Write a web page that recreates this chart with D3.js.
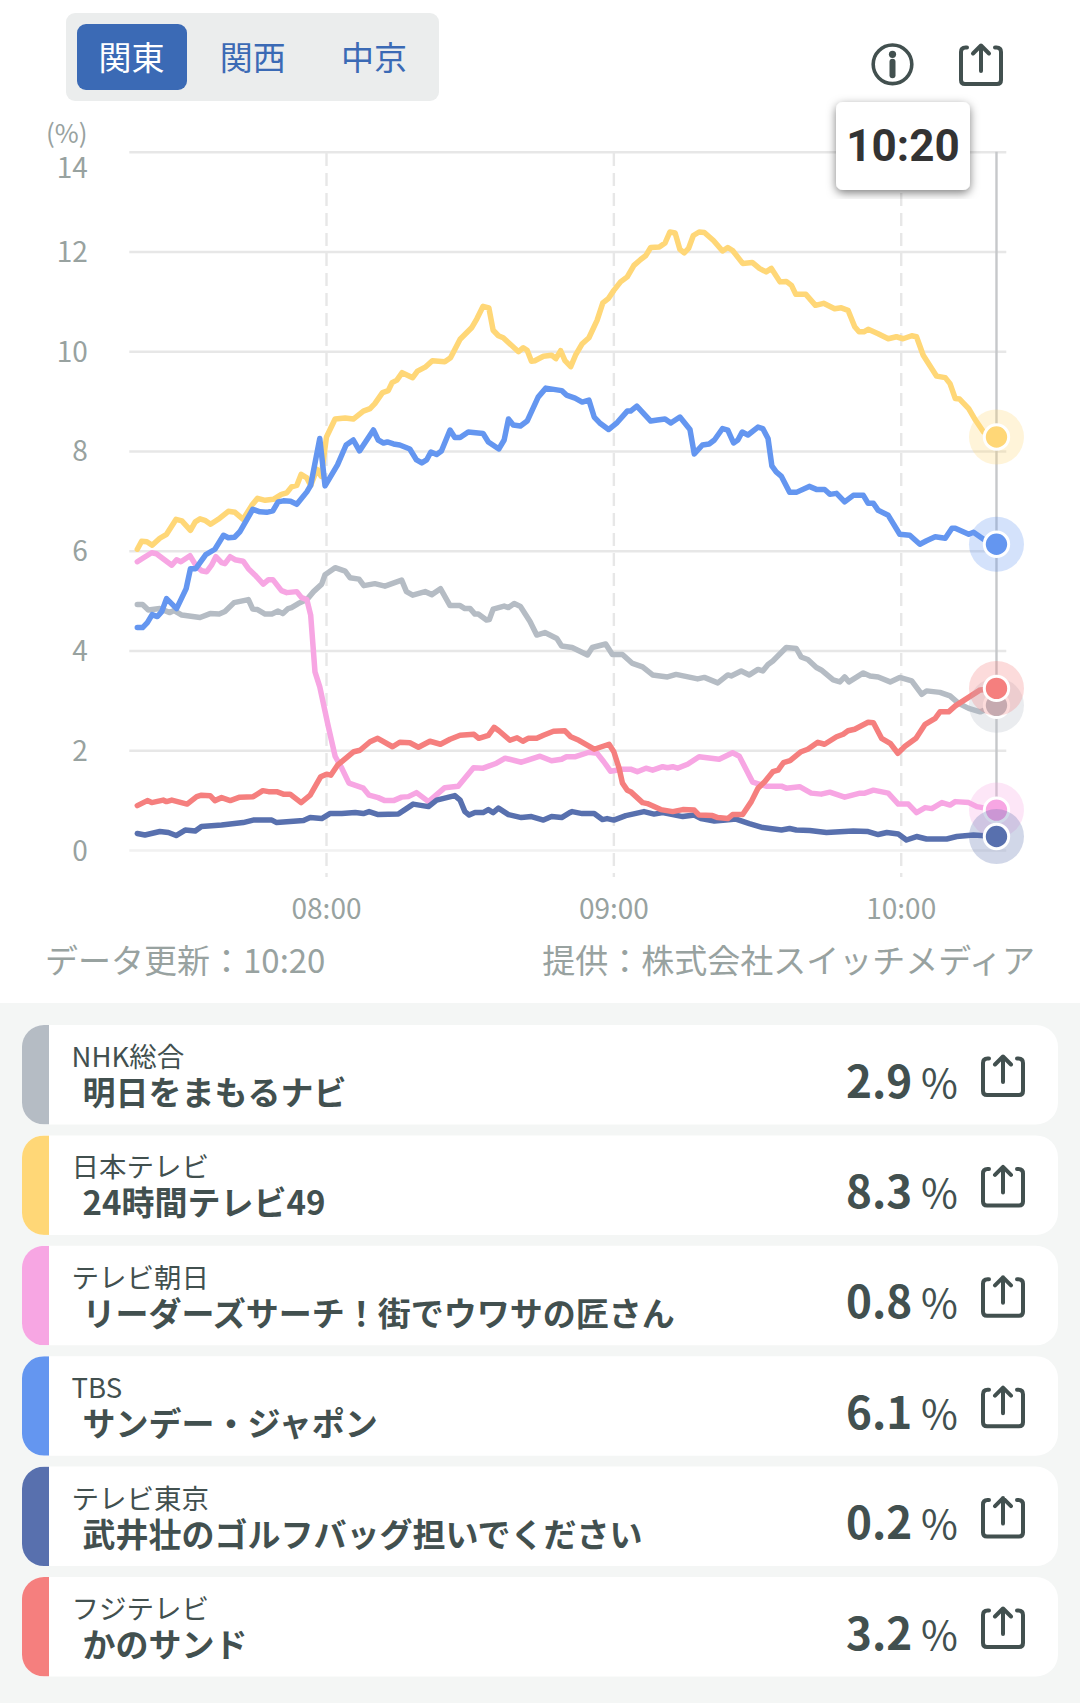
<!DOCTYPE html>
<html lang="ja">
<head>
<meta charset="utf-8">
<script src="https://cdn.jsdelivr.net/npm/d3@7"></script>
<style>
  html, body { margin: 0; padding: 0; background: #fff; }
  svg { display: block; }
  text { font-family: "Noto Sans CJK JP", "Noto Sans", sans-serif; }
</style>
</head>
<body>
<div id="chart"></div>
<script>
// Region tabs and captions
var regions = ["関東", "関西", "中京"];
var updatedText = "データ更新：10:20";
var creditText = "提供：株式会社スイッチメディア";
var currentTime = "10:20";

// Channel rows, in drawing order
var channels = ["NHK総合", "日本テレビ", "テレビ朝日", "TBS", "テレビ東京", "フジテレビ"];
var programs = ["明日をまもるナビ", "24時間テレビ49", "リーダーズサーチ！街でウワサの匠さん", "サンデー・ジャポン", "武井壮のゴルフバッグ担いでください", "かのサンド"];
var ratings = ["2.9", "8.3", "0.8", "6.1", "0.2", "3.2"];
var colors = ["#b5bcc4", "#ffd777", "#f7a6e3", "#6496f0", "#5870ae", "#f57f7e"];

// Axis ticks (x in minutes after midnight)
var yTicks = [0, 2, 4, 6, 8, 10, 12, 14];
var xTicks = [480, 540, 600];

// Traces: [minutes after midnight, rating %]
var nhk = [[440.6,4.92],[441.7,4.92],[442.9,4.81],[445.3,4.84],[447.4,4.76],[448.3,4.8],[449.9,4.71],[453.7,4.66],[455.8,4.74],[457.7,4.73],[458.9,4.78],[460.8,4.96],[463.8,5.02],[464.7,4.83],[465.7,4.82],[467.3,4.73],[468.7,4.73],[470,4.79],[471,4.74],[472.1,4.84],[472.8,4.86],[474.2,4.94],[476,5.02],[477.4,5.18],[479.1,5.33],[479.8,5.52],[481.9,5.66],[484,5.59],[485,5.46],[486.9,5.43],[487.9,5.3],[490.2,5.34],[492.3,5.29],[495.8,5.41],[496.8,5.18],[498.1,5.11],[500.7,5.18],[502.1,5.12],[503.9,5.24],[505.9,4.9],[508,4.9],[509,4.84],[510.1,4.84],[511.1,4.73],[511.8,4.73],[513.5,4.61],[514.1,4.62],[514.9,4.83],[517.2,4.89],[518.1,4.86],[519.3,4.94],[520.6,4.88],[522.6,4.58],[524,4.31],[525.7,4.36],[528.2,4.24],[529.2,4.09],[531.4,4.06],[534.6,3.91],[535.6,4.06],[538.4,4.13],[539.8,3.92],[541.9,3.92],[544,3.74],[546.1,3.67],[548.2,3.51],[551.3,3.47],[553.1,3.52],[557.6,3.43],[559,3.46],[561.8,3.35],[563.9,3.51],[564.6,3.49],[566.7,3.59],[568.4,3.51],[570.2,3.62],[571.2,3.59],[572.3,3.72],[573.3,3.79],[576.1,4.06],[578.2,4.04],[579.2,3.87],[580.6,3.82],[582.4,3.66],[583.4,3.61],[585.9,3.41],[587.3,3.37],[588.3,3.47],[589.2,3.37],[592.2,3.55],[593.6,3.49],[595.3,3.47],[597.8,3.37],[599.8,3.46],[602.3,3.39],[604.4,3.12],[605.4,3.19],[608.2,3.16],[610.3,3.09],[612.1,2.94],[614.2,2.84],[616.6,2.77],[620,2.9]];
var ntv = [[440.6,6.03],[441.5,6.19],[442.6,6.18],[443.7,6.11],[445.3,6.25],[446.7,6.33],[448.7,6.63],[449.9,6.6],[451.7,6.41],[452.7,6.58],[453.7,6.64],[454.7,6.61],[455.9,6.53],[457.5,6.63],[459.6,6.79],[461,6.77],[462.7,6.63],[464.5,6.91],[465.7,7.05],[467.3,7.01],[469,7.03],[470.7,7.13],[471.8,7.16],[472.8,7.28],[473.9,7.31],[474.8,7.53],[476,7.46],[476.8,7.31],[478.1,7.63],[479,7.49],[480.1,8.28],[481.9,8.64],[484,8.66],[485.7,8.64],[487.8,8.8],[489.2,8.85],[490.2,8.95],[491.8,9.17],[493,9.21],[493.8,9.37],[494.8,9.42],[495.9,9.57],[498.1,9.47],[499.1,9.6],[500.7,9.68],[502.2,9.81],[504.8,9.79],[506,9.87],[508,10.24],[510.4,10.47],[511.5,10.65],[512.8,10.9],[514,10.87],[514.9,10.42],[516,10.31],[517,10.27],[520.2,9.99],[521.2,10.07],[522,10.02],[522.9,9.8],[523.6,9.81],[525.4,9.9],[527.1,9.92],[528,9.85],[529,10.01],[529.9,9.81],[531.1,9.69],[532.1,9.92],[533.5,10.15],[534.9,10.27],[536.6,10.62],[537.8,10.97],[539,11.06],[540.1,11.22],[541.5,11.39],[542.9,11.49],[544.3,11.72],[545.7,11.84],[546.8,11.92],[547.8,12.08],[549.6,12.09],[550.8,12.17],[551.8,12.39],[552.9,12.37],[553.9,12.04],[554.8,11.97],[555.7,12.06],[556.7,12.32],[557.9,12.39],[559,12.38],[560.9,12.22],[562.8,12.01],[563.9,12.08],[564.9,12.02],[567,11.76],[569,11.78],[570.5,11.66],[571.9,11.59],[573,11.66],[574.8,11.39],[576.1,11.4],[577.2,11.32],[578.1,11.14],[580.2,11.14],[582.2,10.92],[583.9,10.96],[586.2,10.85],[587.6,10.87],[589,10.82],[590.4,10.49],[591.3,10.39],[592.3,10.39],[593.2,10.44],[595.3,10.35],[597.4,10.25],[599.1,10.29],[600.5,10.25],[602.3,10.31],[603.3,10.29],[604.7,9.92],[607.5,9.5],[609.3,9.47],[610.3,9.35],[611.4,9.05],[612.3,9.04],[614.2,8.85],[615.6,8.62],[617.3,8.38],[620,8.28]];
var ex = [[440.6,5.78],[441.9,5.86],[443.6,5.96],[444.6,5.94],[446.4,5.81],[447.8,5.71],[448.8,5.82],[449.7,5.78],[451.6,5.9],[453,5.68],[454,5.6],[455.1,5.58],[456.1,5.71],[457,5.88],[458.2,5.76],[458.9,5.74],[460,5.88],[461,5.82],[462.7,5.79],[463.8,5.64],[465.2,5.51],[466.9,5.33],[468,5.42],[468.9,5.42],[470.7,5.2],[471.8,5.16],[473.9,5.18],[474.9,5.06],[476,5.02],[476.8,4.71],[477.7,3.57],[478.7,3.27],[480.5,2.47],[481.9,1.88],[483.3,1.64],[484.8,1.34],[487.8,1.24],[489,1.1],[490.9,1.05],[492.3,0.99],[494.1,0.99],[495.8,1.06],[497.2,1.07],[498.9,1.15],[501.4,0.97],[504.8,1.25],[507.6,1.28],[510.8,1.65],[512.8,1.64],[515.6,1.74],[517.4,1.84],[520.8,1.76],[524.7,1.88],[527.1,1.79],[529.2,1.82],[530.2,1.87],[532.1,1.87],[534.9,1.96],[536.6,1.94],[538,1.77],[539.4,1.58],[541.9,1.62],[543.6,1.62],[545,1.57],[546.8,1.64],[548.2,1.6],[550.3,1.67],[551.3,1.65],[552.4,1.67],[553.4,1.64],[555.5,1.72],[557.9,1.87],[562.1,1.82],[564.9,1.95],[566.3,1.88],[569.1,1.36],[571.9,1.28],[575.1,1.28],[576.1,1.24],[578.9,1.27],[581.3,1.14],[583.4,1.12],[585.2,1.16],[588.3,1.06],[591.5,1.14],[592.5,1.14],[594.3,1.2],[597.4,1.14],[599.5,0.92],[601.6,0.92],[603.3,0.75],[605.1,0.85],[606.5,0.83],[608.6,0.95],[610.3,0.9],[611.4,0.97],[614.2,0.95],[615.9,0.87],[620,0.8]];
var tbs = [[440.6,4.46],[441.7,4.46],[442.7,4.56],[443.7,4.72],[444.8,4.68],[445.7,4.78],[446.7,5.04],[448.8,4.84],[450.8,5.24],[451.7,5.64],[452.8,5.64],[454.9,5.92],[456.8,6.03],[458.6,6.31],[459.6,6.26],[460.9,6.27],[462,6.38],[464.7,6.83],[466.2,6.78],[467.6,6.77],[468.9,6.8],[470,6.98],[471.1,7],[472.6,6.99],[473.9,6.93],[476,7.18],[476.8,7.31],[478.7,8.25],[479.8,7.3],[482.4,7.72],[484.2,8.12],[485.7,8.22],[487,8],[489.9,8.42],[490.9,8.22],[492,8.16],[492.8,8.18],[494.1,8.14],[495.4,8.12],[497.5,8.04],[498.9,7.82],[500,7.76],[501,7.82],[501.9,7.98],[503.1,7.93],[504.1,8],[505.9,8.42],[506.9,8.27],[508,8.27],[509.7,8.38],[512.8,8.35],[513.9,8.18],[516.1,8.04],[517.2,8.22],[518.1,8.64],[519.1,8.52],[520.6,8.5],[522,8.6],[524.3,9.08],[525.9,9.26],[529.2,9.21],[530.2,9.12],[532,9.06],[533.5,8.98],[534.9,9.02],[536,8.68],[537.3,8.55],[539,8.43],[540.8,8.57],[542.9,8.8],[543.6,8.8],[544.9,8.9],[547.8,8.6],[549.2,8.62],[550.8,8.64],[552,8.56],[553.9,8.68],[556,8.43],[556.9,7.94],[558.6,8.12],[560,8.14],[561.1,8.22],[562.8,8.45],[563.9,8.42],[565.1,8.16],[566,8.22],[566.9,8.38],[568.1,8.32],[570.2,8.48],[571.2,8.45],[572.3,8.25],[573.1,7.7],[574,7.58],[575.1,7.49],[576.8,7.17],[578.2,7.17],[580.9,7.29],[582.4,7.23],[584.1,7.23],[585.2,7.13],[586.6,7.15],[588.3,6.98],[590.1,7.11],[592.2,7.11],[593.2,6.95],[594.3,6.95],[595.3,6.81],[597.4,6.71],[599.8,6.33],[601.9,6.31],[604,6.13],[605.4,6.2],[607.2,6.28],[609.3,6.25],[610.7,6.45],[611.4,6.45],[614.2,6.33],[615.2,6.37],[617.3,6.23],[620,6.13]];
var tx = [[440.6,0.33],[442.2,0.3],[445.3,0.37],[447.1,0.35],[448.7,0.29],[450.6,0.4],[452.7,0.38],[454,0.47],[458.2,0.5],[462.7,0.55],[464.8,0.6],[468.7,0.6],[469.7,0.55],[475.3,0.59],[476.7,0.65],[479.1,0.63],[480.8,0.73],[483.3,0.73],[486.1,0.75],[487.8,0.73],[489,0.77],[490.9,0.71],[495.1,0.72],[496.8,0.83],[498.2,0.92],[501.4,0.87],[503.1,1],[506.9,1.09],[508,1],[509,0.77],[509.9,0.7],[511.1,0.75],[512.8,0.75],[513.9,0.81],[514.9,0.75],[516,0.84],[518.1,0.71],[520.8,0.65],[522.9,0.67],[525.4,0.6],[527.1,0.67],[529.2,0.65],[530.9,0.75],[531.4,0.77],[533.5,0.73],[536,0.73],[537.7,0.61],[538.7,0.63],[540.1,0.6],[542.6,0.69],[546.4,0.77],[548.5,0.72],[550.3,0.75],[554.5,0.67],[556.9,0.7],[558.3,0.63],[561.1,0.58],[563.5,0.6],[565.6,0.62],[568.4,0.53],[571.2,0.45],[575.1,0.4],[576.8,0.43],[578.2,0.4],[581,0.39],[584.5,0.35],[590.1,0.38],[593.2,0.37],[595.3,0.31],[597.1,0.35],[599.5,0.32],[601.2,0.2],[603.3,0.27],[605.4,0.22],[609.6,0.22],[611.7,0.27],[615.2,0.3],[620,0.27]];
var fuji = [[440.6,0.89],[442.7,0.99],[443.6,0.95],[446,1],[446.7,0.97],[447.8,1],[451,0.92],[453,1.07],[454,1.1],[455.8,1.09],[456.8,0.99],[458.2,1.05],[460,0.99],[462,1.06],[464.8,1.07],[466.8,1.19],[468,1.17],[469.7,1.17],[471.1,1.12],[472.5,1.12],[474.8,0.95],[476.7,1.1],[478.9,1.47],[480.1,1.52],[481,1.5],[482.4,1.7],[485.8,1.97],[487.1,2],[489.2,2.17],[490.8,2.24],[493.9,2.07],[495.4,2.16],[497.5,2.15],[499.3,2.06],[501.7,2.18],[503.9,2.12],[505.9,2.22],[508,2.3],[510.9,2.32],[511.9,2.24],[513.9,2.3],[515.1,2.46],[516.1,2.39],[518.4,2.2],[519.9,2.25],[521.1,2.18],[522.2,2.24],[524,2.24],[525.4,2.3],[527.5,2.38],[529.9,2.39],[531.1,2.27],[532.8,2.2],[536,2.02],[539.1,2.12],[540.1,1.97],[541.2,1.64],[541.9,1.34],[542.9,1.2],[543.6,1.17],[546.1,0.95],[547.1,0.93],[549.9,0.81],[552.4,0.77],[554.5,0.81],[556.9,0.8],[557.9,0.7],[560.7,0.69],[561.8,0.65],[563.9,0.63],[564.9,0.71],[567,0.71],[568.8,0.97],[570.2,1.24],[571.6,1.37],[573.3,1.57],[574.4,1.6],[575.5,1.75],[576.9,1.79],[579.2,1.97],[580.6,2.02],[582.7,2.16],[584.1,2.12],[586.6,2.27],[588,2.32],[589,2.39],[590.4,2.42],[591.8,2.49],[593.2,2.56],[594.3,2.55],[596,2.24],[597.8,2.14],[599.4,1.94],[600.9,2.08],[603.2,2.24],[605.1,2.52],[607.2,2.64],[608.2,2.77],[610,2.77],[611.4,2.89],[616.6,3.21],[620,3.24]];
var traces = [nhk, ntv, ex, tbs, tx, fuji];

var width = 1080, height = 1703;
var nowMinute = 620;
var ink = "#42504f", axisInk = "#98a2a0";

var svg = d3.select("#chart").append("svg")
    .attr("width", width)
    .attr("height", height)
    .attr("viewBox", "0 0 " + width + " " + height);

var defs = svg.append("defs");
var shadow = defs.append("filter")
    .attr("id", "tipShadow")
    .attr("filterUnits", "userSpaceOnUse")
    .attr("x", 823).attr("y", 93).attr("width", 162).attr("height", 106);
shadow.append("feDropShadow")
    .attr("dx", 0).attr("dy", 3).attr("stdDeviation", 5)
    .attr("flood-color", "#000").attr("flood-opacity", 0.5);

var x = d3.scaleLinear().domain([480, 600]).range([326, 900.7]);
var y = d3.scaleLinear().domain([0, 14]).range([850, 151.7]);

// Region tabs
var tabX = d3.scalePoint().domain(regions).range([131.5, 374]);
svg.append("rect")
    .attr("x", 66).attr("y", 13).attr("width", 373).attr("height", 88).attr("rx", 9)
    .attr("fill", "#ebeded");
svg.append("rect")
    .attr("x", 77).attr("y", 24).attr("width", 110).attr("height", 66).attr("rx", 9)
    .attr("fill", "#3b6ab5");
svg.selectAll(".tab").data(regions).enter().append("text")
    .attr("class", "tab")
    .attr("x", function (d) { return tabX(d); })
    .attr("y", 70)
    .attr("text-anchor", "middle")
    .attr("font-size", 33)
    .attr("font-weight", 400)
    .attr("fill", function (d, i) { return i === 0 ? "#fff" : "#3b6ab5"; })
    .text(function (d) { return d; });

// Share icon, drawn from its top left corner
function shareIcon(left, top) {
    svg.append("path")
        .attr("transform", "translate(" + left + "," + top + ")")
        .attr("d", "M8,4.5H6.5Q2,4.5 2,9V37Q2,41 6,41H38Q42,41 42,37V9Q42,4.5 37.5,4.5H36M22,28V2.5M14,10.5L22,2.5L30,10.5")
        .attr("fill", "none")
        .attr("stroke", ink)
        .attr("stroke-width", 4)
        .attr("stroke-linecap", "round")
        .attr("stroke-linejoin", "round");
}

// Info icon
var info = svg.append("g").attr("transform", "translate(892.5,64.3)");
info.append("circle").attr("r", 19.3).attr("fill", "none").attr("stroke", ink).attr("stroke-width", 3.6);
info.append("circle").attr("cy", -10).attr("r", 3.6).attr("fill", ink);
info.append("line").attr("y1", -2.5).attr("y2", 11).attr("stroke", ink).attr("stroke-width", 6).attr("stroke-linecap", "round");
shareIcon(959, 43);

// Horizontal grid and y labels
var yAxis = svg.append("g")
    .attr("transform", "translate(129.3,0)")
    .call(d3.axisLeft(y).tickValues(yTicks).tickSize(-877).tickPadding(41.5));
yAxis.select(".domain").remove();
yAxis.selectAll(".tick line")
    .attr("stroke", function (d) { return d === 0 ? "#f1f1f1" : "#e7e7e7"; })
    .attr("stroke-width", 2.4);
yAxis.selectAll(".tick text")
    .attr("font-family", null)
    .attr("font-size", 28)
    .attr("font-weight", 400)
    .attr("fill", axisInk)
    .attr("dy", function (d) { return d === 14 ? 26 : 10; });
svg.append("text")
    .attr("x", 87.5).attr("y", 143)
    .attr("text-anchor", "end")
    .attr("font-size", 26)
    .attr("font-weight", 400)
    .attr("fill", axisInk)
    .text("(%)");

// Vertical dashed hours and time labels
var xAxis = svg.append("g")
    .attr("transform", "translate(0,153)")
    .call(d3.axisBottom(x).tickValues(xTicks).tickSize(724).tickPadding(22)
        .tickFormat(function (m) { return d3.format("02")(Math.floor(m / 60)) + ":00"; }));
xAxis.select(".domain").remove();
xAxis.selectAll(".tick line")
    .attr("stroke", "#e7e7e7")
    .attr("stroke-width", 2.4)
    .attr("stroke-dasharray", "13 7");
xAxis.selectAll(".tick text")
    .attr("font-family", null)
    .attr("font-size", 28)
    .attr("font-weight", 400)
    .attr("fill", axisInk);

// Cursor at the latest minute
svg.append("line")
    .attr("x1", x(nowMinute)).attr("x2", x(nowMinute))
    .attr("y1", y(14)).attr("y2", y(tx[tx.length - 1][1]))
    .attr("stroke", "#c6c8ca")
    .attr("stroke-width", 2.4);

// Lines
var line = d3.line()
    .x(function (d) { return x(d[0]); })
    .y(function (d) { return y(d[1]); });
svg.selectAll(".trace").data(traces).enter().append("path")
    .attr("class", "trace")
    .attr("d", line)
    .attr("fill", "none")
    .attr("stroke", function (d, i) { return colors[i]; })
    .attr("stroke-width", 5.5)
    .attr("stroke-linecap", "round")
    .attr("stroke-linejoin", "round");

// End dots with halo
traces.forEach(function (trace, i) {
    var last = trace[trace.length - 1];
    var dot = svg.append("g").attr("transform", "translate(" + x(last[0]) + "," + y(last[1]) + ")");
    dot.append("circle").attr("r", 27.5).attr("fill", colors[i]).attr("fill-opacity", 0.28);
    dot.append("circle").attr("r", 12.2).attr("fill", colors[i]).attr("stroke", "#fff").attr("stroke-width", 3);
});

// Time tooltip
svg.append("rect")
    .attr("x", 836).attr("y", 102).attr("width", 134).attr("height", 88).attr("rx", 7)
    .attr("fill", "#fff")
    .attr("filter", "url(#tipShadow)");
svg.append("text")
    .attr("x", 903).attr("y", 161)
    .attr("text-anchor", "middle")
    .attr("font-size", 44)
    .attr("font-weight", 700)
    .attr("fill", "#333")
    .style("font-family", "Roboto")
    .text(currentTime);

// Captions under the chart
svg.append("text")
    .attr("x", 45).attr("y", 973)
    .attr("font-size", 33).attr("font-weight", 400).attr("fill", axisInk)
    .text(updatedText);
svg.append("text")
    .attr("x", 1035).attr("y", 973)
    .attr("text-anchor", "end")
    .attr("font-size", 33).attr("font-weight", 400).attr("fill", axisInk)
    .text(creditText);

// Channel list
svg.append("rect")
    .attr("x", 0).attr("y", 1003).attr("width", width).attr("height", height - 1003)
    .attr("fill", "#f4f6f5");

var rowY = d3.scaleLinear().domain([0, 5]).range([1025, 1577]);
channels.forEach(function (name, i) {
    var top = rowY(i);
    defs.append("clipPath").attr("id", "card" + i)
        .append("rect")
        .attr("x", 22).attr("y", top).attr("width", 1036).attr("height", 99.5).attr("rx", 22);
    svg.append("rect")
        .attr("x", 22).attr("y", top).attr("width", 1036).attr("height", 99.5).attr("rx", 22)
        .attr("fill", "#fff");
    svg.append("rect")
        .attr("x", 22).attr("y", top).attr("width", 27).attr("height", 99.5)
        .attr("fill", colors[i])
        .attr("clip-path", "url(#card" + i + ")");
    svg.append("text")
        .attr("x", 71.5).attr("y", top + 42)
        .attr("font-size", 27.5).attr("font-weight", 400).attr("fill", ink)
        .text(name);
    svg.append("text")
        .attr("x", 82.5).attr("y", top + 80)
        .attr("font-size", 33).attr("font-weight", 700).attr("fill", ink)
        .text(programs[i]);
    svg.append("text")
        .attr("x", 846).attr("y", top + 72.5)
        .attr("font-size", 44).attr("font-weight", 700).attr("fill", ink)
        .text(ratings[i]);
    svg.append("text")
        .attr("x", 921).attr("y", top + 72.5)
        .attr("font-size", 40).attr("font-weight", 400).attr("fill", ink)
        .text("%");
    shareIcon(981, top + 29);
});
</script>
</body>
</html>
